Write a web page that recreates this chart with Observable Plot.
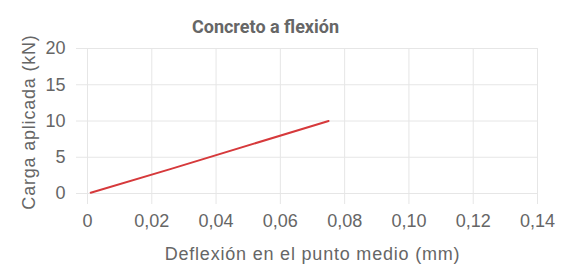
<!DOCTYPE html>
<html><head><meta charset="utf-8">
<script src="https://cdn.jsdelivr.net/npm/d3@7"></script>
<script src="https://cdn.jsdelivr.net/npm/@observablehq/plot@0.6"></script>
<style>body{margin:0;background:#fff}</style>
</head><body><div id="chart"></div>
<script>
const title = "Concreto a flexión";
const xLabel = "Deflexión en el punto medio (mm)";
const yLabel = "Carga aplicada (kN)";
const deflexion = [0.001, 0.026, 0.075];
const carga = [0.1, 3.4, 10];
const xTicks = [0, 0.02, 0.04, 0.06, 0.08, 0.10, 0.12, 0.14];
const yTicks = [0, 5, 10, 15, 20];

const data = deflexion.map((d, i) => ({x: d, y: carga[i]}));
const fmt = d => d === 0 ? "0" : d.toFixed(2).replace(".", ",");
const grid = "#e6e6e6";

const plot = Plot.plot({
  width: 561, height: 264,
  marginLeft: 87, marginRight: 24, marginTop: 48, marginBottom: 71,
  style: {fontFamily: "Liberation Sans, Arial, sans-serif", color: "#666", background: "#fff", overflow: "visible"},
  x: {domain: [0, 0.14]},
  y: {domain: [0, 20]},
  marks: [
    Plot.gridX(xTicks, {stroke: grid, strokeOpacity: 1}),
    Plot.gridY(yTicks, {stroke: grid, strokeOpacity: 1}),
    Plot.axisX(xTicks, {tickSize: 11, stroke: grid, tickFormat: fmt, fontSize: 18, tickPadding: 10, label: null}),
    Plot.axisY(yTicks, {tickSize: 11, stroke: grid, fontSize: 18, tickPadding: 11, label: null}),
    Plot.line(data, {x: "x", y: "y", stroke: "#d6393b", strokeWidth: 2}),
    Plot.text([title], {frameAnchor: "top", dx: -47, dy: -28, fontSize: 18, fontWeight: "bold", fill: "#666", fontFamily: "Roboto, sans-serif"}),
    Plot.text([xLabel], {frameAnchor: "bottom", dy: 66, fontSize: 18, fill: "#666", textAnchor: "middle"}),
    Plot.text([yLabel], {frameAnchor: "left", dx: -58, dy: 1, rotate: -90, fontSize: 18, fill: "#666", textAnchor: "middle"})
  ]
});
d3.select(plot).selectAll("text")
  .filter(function() { return this.textContent === xLabel || this.textContent === yLabel; })
  .attr("letter-spacing", "0.8px");
document.getElementById("chart").append(plot);
</script>
</body></html>
